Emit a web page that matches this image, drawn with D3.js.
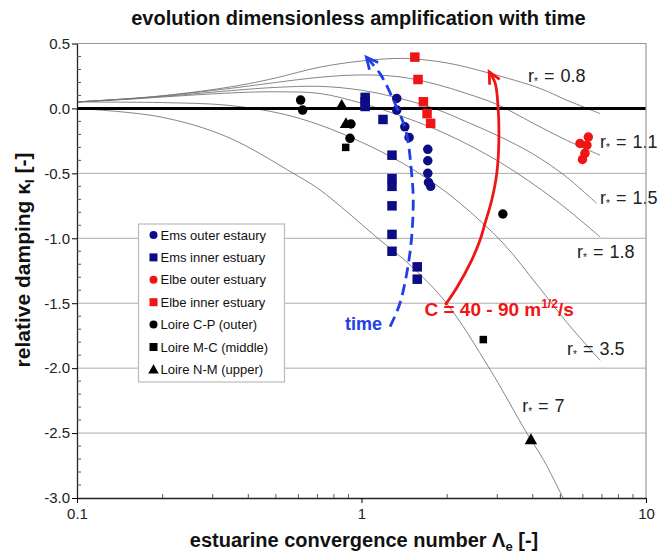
<!DOCTYPE html>
<html><head><meta charset="utf-8">
<script src="https://cdn.jsdelivr.net/npm/d3@7"></script>
<style>body{margin:0;background:#fff}svg{display:block;font-family:"Liberation Sans",Arial,Helvetica,sans-serif}</style>
</head><body><svg id="c" width="659" height="556"></svg>
<script>
// ---------------- data (Λe, κi) ----------------
const curveNames = ["0.8", "1.1", "1.5", "1.8", "3.5", "7"];
const curve_r08 = [[0.1,0.05],[0.15,0.075],[0.2,0.098],[0.3,0.145],[0.4,0.19],[0.5,0.235],[0.715,0.318],[1.0,0.365],[1.4,0.385],[2.0,0.35],[2.83,0.27],[4.24,0.154],[5.26,0.064],[6.9,-0.04]];
const curve_r11 = [[0.1,0.05],[0.15,0.074],[0.2,0.096],[0.3,0.138],[0.4,0.172],[0.5,0.2],[0.715,0.24],[1.0,0.258],[1.365,0.243],[1.8,0.19],[2.34,0.115],[3.0,0.03],[4.02,-0.115],[5.2,-0.24],[6.9,-0.36]];
const curve_r15 = [[0.1,0.05],[0.15,0.072],[0.2,0.092],[0.3,0.125],[0.4,0.148],[0.5,0.162],[0.715,0.17],[1.0,0.14],[1.365,0.077],[1.8,0.0],[2.34,-0.103],[3.07,-0.218],[4.0,-0.35],[5.2,-0.52],[6.7,-0.73]];
const curve_r18 = [[0.1,0.05],[0.15,0.07],[0.2,0.088],[0.3,0.112],[0.4,0.125],[0.5,0.128],[0.715,0.115],[1.0,0.04],[1.365,-0.055],[2.0,-0.2],[3.07,-0.415],[4.83,-0.71],[6.9,-0.99]];
const curve_r35 = [[0.1,0.05],[0.15,0.048],[0.2,0.045],[0.336,0.025],[0.517,-0.038],[0.715,-0.128],[1.0,-0.26],[1.365,-0.41],[1.79,-0.574],[2.22,-0.73],[3.14,-1.036],[4.19,-1.372],[5.28,-1.65],[6.9,-1.94]];
const curve_r7  = [[0.1,0.0],[0.196,-0.065],[0.336,-0.218],[0.576,-0.5],[0.715,-0.628],[1.16,-1.013],[1.48,-1.205],[1.99,-1.5],[2.83,-2.01],[3.81,-2.5],[4.36,-2.705],[5.11,-3.0]];
const curveLabelPos = [[3.85,0.202],[6.89,-0.305],[6.89,-0.736],[5.72,-1.15],[5.28,-1.90],[3.67,-2.34]];

const emsOuter  = [[1.33,0.077],[1.33,-0.013],[1.42,-0.142],[1.47,-0.223],[1.71,-0.315],[1.71,-0.403],[1.71,-0.5],[1.72,-0.57],[1.75,-0.60]];
const emsInner  = [[1.03,0.085],[1.03,0.05],[1.03,0.015],[1.19,-0.085],[1.28,-0.36],[1.28,-0.54],[1.28,-0.60],[1.28,-0.75],[1.28,-0.97],[1.28,-1.10],[1.57,-1.22],[1.57,-1.315]];
const elbeOuter = [[5.86,-0.27],[6.27,-0.22],[6.2,-0.283],[6.1,-0.346],[5.98,-0.393]];
const elbeInner = [[1.54,0.395],[1.58,0.223],[1.65,0.051],[1.70,-0.04],[1.75,-0.115]];
const loireCP   = [[0.611,0.064],[0.621,-0.013],[0.918,-0.12],[0.911,-0.23],[3.14,-0.813]];
const loireMC   = [[0.88,-0.30],[2.68,-1.78]];
const loireNM   = [[0.852,0.025],[0.882,-0.115],[3.94,-2.55]];

const legendLabels = ["Ems outer estaury","Ems inner estuary","Elbe outer estuary","Elbe inner estuary","Loire C-P (outer)","Loire M-C (middle)","Loire N-M (upper)"];

const timeArrow = [[1.26,-1.68],[1.365,-1.50],[1.48,-1.113],[1.52,-0.728],[1.50,-0.498],[1.43,-0.167],[1.31,0.04],[1.16,0.27],[1.04,0.395]];
const redArc = [[1.97,-1.513],[2.17,-1.375],[2.44,-1.168],[2.61,-1.013],[2.72,-0.882],[2.87,-0.705],[2.99,-0.498],[3.04,-0.241],[3.02,0.01],[2.95,0.195],[2.81,0.282]];
const timeLabelPos = [0.875,-1.705];
const cLabelPos = [1.665,-1.595];

const yTicks = [-3.0,-2.5,-2.0,-1.5,-1.0,-0.5,0.0,0.5];
const xTicks = [0.1,1,10];
const xTickLabels = ["0.1","1","10"];

// ---------------- drawing ----------------
const svg = d3.select("#c");
const L = 77, R = 646, T = 43.5, B = 498;
const x = d3.scaleLog().domain([0.1,10]).range([L,R]);
const y = d3.scaleLinear().domain([-3,0.5]).range([B,T]);

svg.append("defs").append("clipPath").attr("id","clip")
  .append("rect").attr("x",L).attr("y",T).attr("width",R-L).attr("height",B-T);

// grid
svg.append("g").selectAll("line").data(yTicks.filter(d=>d>-3 && d<0.5 && d!==0)).join("line")
  .attr("x1",L).attr("x2",R).attr("y1",d=>y(d)).attr("y2",d=>y(d))
  .attr("stroke","#aaa").attr("stroke-width",1);

// theory curves
const curves = [curve_r08,curve_r11,curve_r15,curve_r18,curve_r35,curve_r7];
const line = d3.line().x(d=>x(d[0])).y(d=>y(d[1])).curve(d3.curveCatmullRom.alpha(0.5));
svg.append("g").attr("clip-path","url(#clip)").selectAll("path").data(curves).join("path")
  .attr("d",line).attr("fill","none").attr("stroke","#777").attr("stroke-width",0.9);

// curve labels
const lab = svg.append("g").attr("font-size",18).attr("fill","#222");
curveNames.forEach((n,i)=>{
  const t = lab.append("text").attr("x",x(curveLabelPos[i][0])).attr("y",y(curveLabelPos[i][1]));
  t.append("tspan").text("r");
  t.append("tspan").attr("font-size",10).attr("dy",3).text("*");
  t.append("tspan").attr("dy",-3).attr("dx",6).text("=");
  t.append("tspan").attr("dx",6).text(n);
});

// zero line
svg.append("line").attr("x1",L).attr("x2",R).attr("y1",y(0)).attr("y2",y(0))
  .attr("stroke","#000").attr("stroke-width",3);

// frame top/right
svg.append("path").attr("d",`M${L},${T}H${R}V${B}`).attr("fill","none").attr("stroke","#999").attr("stroke-width",1.2);

// legend
const lg = svg.append("g");
lg.append("rect").attr("x",138.5).attr("y",224).attr("width",146).attr("height",158)
  .attr("fill","#fff").attr("stroke","#bbb").attr("stroke-width",1.2);

const navy = "#0c0c86", red = "#f01414";
const series = [
  {data:emsOuter, shape:"circle", color:navy},
  {data:emsInner, shape:"square", color:navy},
  {data:elbeOuter, shape:"circle", color:red},
  {data:elbeInner, shape:"square", color:red},
  {data:loireCP, shape:"circle", color:"#000"},
  {data:loireMC, shape:"square", color:"#000", size:7.5},
  {data:loireNM, shape:"triangle", color:"#000"}
];
function marker(g, shape, cx, cy, color, s){
  if(shape==="circle") g.append("circle").attr("cx",cx).attr("cy",cy).attr("r",s/2).attr("fill",color);
  else if(shape==="square") g.append("rect").attr("x",cx-s/2).attr("y",cy-s/2).attr("width",s).attr("height",s).attr("fill",color);
  else g.append("path").attr("d",d3.symbol(d3.symbolTriangle, s*s*0.75)()).attr("transform",`translate(${cx},${cy+1})`).attr("fill",color);
}
legendLabels.forEach((t,i)=>{
  const yy = 235 + i*22.4;
  marker(lg, series[i].shape, 153.5, yy, series[i].color, 8);
  lg.append("text").attr("x",160.5).attr("y",yy+4.5).attr("font-size",13).attr("fill","#111").text(t);
});

// data markers
const pts = svg.append("g");
series.forEach(s=>{
  s.data.forEach(d=> marker(pts, s.shape, x(d[0]), y(d[1]), s.color, s.size || 9.5));
});

// arrows
function arrowHead(g, pts, color, len, w){
  const p1 = [x(pts[pts.length-2][0]), y(pts[pts.length-2][1])];
  const p2 = [x(pts[pts.length-1][0]), y(pts[pts.length-1][1])];
  const a = Math.atan2(p2[1]-p1[1], p2[0]-p1[0]);
  const d = [a+Math.PI-0.45, a+Math.PI+0.45].map(b=>[p2[0]+len*Math.cos(b), p2[1]+len*Math.sin(b)]);
  g.append("path").attr("d",`M${d[0][0]},${d[0][1]}L${p2[0]},${p2[1]}L${d[1][0]},${d[1][1]}`)
    .attr("fill","none").attr("stroke",color).attr("stroke-width",w).attr("stroke-linejoin","miter");
}
const ann = svg.append("g");
const blue = "#2040e6";
ann.append("path").attr("d",line(timeArrow)).attr("fill","none").attr("stroke",blue)
  .attr("stroke-width",2.8).attr("stroke-dasharray","11,6");
arrowHead(ann, timeArrow, blue, 13, 2.8);
ann.append("text").attr("x",x(timeLabelPos[0])).attr("y",y(timeLabelPos[1])).attr("font-size",18)
  .attr("font-weight","bold").attr("fill",blue).text("time");

ann.append("path").attr("d",line(redArc)).attr("fill","none").attr("stroke",red).attr("stroke-width",2.8);
arrowHead(ann, redArc, red, 13, 2.8);
const ct = ann.append("text").attr("x",x(cLabelPos[0])).attr("y",y(cLabelPos[1])).attr("font-size",19)
  .attr("font-weight","bold").attr("fill",red);
ct.append("tspan").text("C = 40 - 90 m");
ct.append("tspan").attr("font-size",12).attr("dy",-8).text("1/2");
ct.append("tspan").attr("dy",8).text("/s");

// axes
const ya = svg.append("g").attr("transform",`translate(${L},0)`)
  .call(d3.axisLeft(y).tickValues(yTicks).tickFormat(d=>d.toFixed(1)).tickSize(5).tickPadding(2).tickSizeOuter(0));
ya.select(".domain").attr("stroke","#222").attr("stroke-width",1.3);
ya.selectAll("text").attr("font-size",15).attr("fill","#222").attr("font-family","Liberation Sans, Arial, sans-serif");
const yMinor = d3.range(-29,5).map(d=>d/10).filter(d=>Math.abs(d*2-Math.round(d*2))>1e-6);
svg.append("g").selectAll("line").data(yMinor).join("line")
  .attr("x1",L).attr("x2",L+4).attr("y1",d=>y(d)).attr("y2",d=>y(d)).attr("stroke","#555");

const xa = svg.append("g").attr("transform",`translate(0,${B})`)
  .call(d3.axisBottom(x).tickValues(xTicks).tickFormat((d,i)=>xTickLabels[i]).tickSize(5).tickSizeOuter(0));
xa.select(".domain").attr("stroke","#222").attr("stroke-width",1.3);
xa.selectAll("text").attr("font-size",15).attr("fill","#222").attr("dy","0.85em").attr("font-family","Liberation Sans, Arial, sans-serif");
const xMinor = [2,3,4,5,6,7,8,9].flatMap(k=>[k/10,k]);
svg.append("g").selectAll("line").data(xMinor).join("line")
  .attr("x1",d=>x(d)).attr("x2",d=>x(d)).attr("y1",B).attr("y2",B-4).attr("stroke","#555");

// titles
svg.append("text").attr("x",358.5).attr("y",25).attr("text-anchor","middle")
  .attr("font-size",20).attr("font-weight","bold").attr("fill","#111")
  .text("evolution dimensionless amplification with time");
const xt = svg.append("text").attr("x",364).attr("y",547).attr("text-anchor","middle")
  .attr("font-size",20).attr("font-weight","bold").attr("fill","#111");
xt.append("tspan").text("estuarine convergence number Λ");
xt.append("tspan").attr("font-size",13).attr("dy",4).text("e");
xt.append("tspan").attr("dy",-4).text(" [-]");
const ytl = svg.append("text").attr("transform","translate(30,260) rotate(-90)").attr("text-anchor","middle")
  .attr("font-size",21).attr("font-weight","bold").attr("fill","#111");
ytl.append("tspan").text("relative damping κ");
ytl.append("tspan").attr("font-size",13).attr("dy",4).text("I");
ytl.append("tspan").attr("dy",-4).text(" [-]");
</script></body></html>
